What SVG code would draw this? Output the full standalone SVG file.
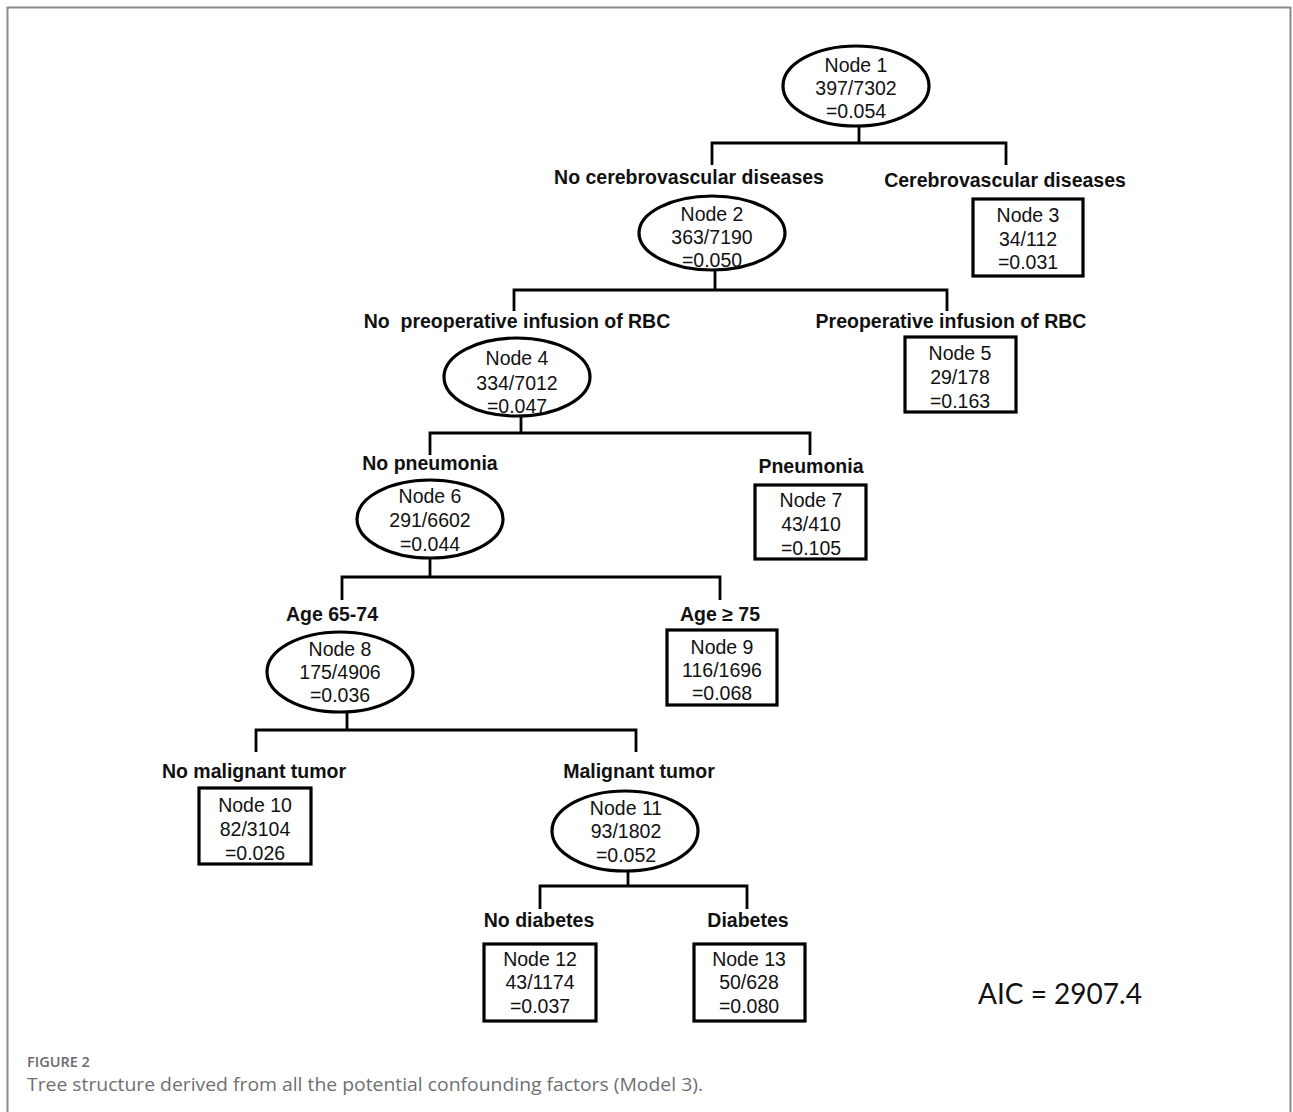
<svg xmlns="http://www.w3.org/2000/svg" width="1293" height="1112" viewBox="0 0 1293 1112">
<style>
.frame{fill:none;stroke:#8a8a8a;stroke-width:2}
.ell{fill:#fff;stroke:#000;stroke-width:3.2}
.box{fill:#fff;stroke:#000;stroke-width:3.2}
.conn{fill:none;stroke:#000;stroke-width:2.8;stroke-linejoin:miter;stroke-linecap:butt}
.nt{font-family:"Liberation Sans",Arial,sans-serif;font-size:19.5px;fill:#111;text-anchor:middle}
.lb{font-family:"Liberation Sans",Arial,sans-serif;font-size:19.5px;font-weight:bold;fill:#111;text-anchor:middle}
.aic{font-family:Lato,"Open Sans",sans-serif;font-size:28px;fill:#111}
.fig{font-family:"Open Sans","Liberation Sans",sans-serif;font-size:14.5px;font-weight:600;fill:#6a6a6a}
.cap{font-family:"Open Sans","Liberation Sans",sans-serif;font-size:18px;fill:#707070}
</style>
<rect width="1293" height="1112" fill="#fff"/>
<path class="frame" d="M7.5,1114 V7.5 H1290.5 V1114"/>

<g id="connectors">
<path class="conn" d="M859,126 V143 M712,165 V143 H1006 V165"/>
<path class="conn" d="M715,270 V290 M514,311 V290 H947 V311"/>
<path class="conn" d="M521,417 V433 M430,455 V433 H810 V455"/>
<path class="conn" d="M430,558 V577 M342,600 V577 H720 V600"/>
<path class="conn" d="M347,712 V730 M256,752 V730 H636 V752"/>
<path class="conn" d="M628,871 V886 M540,909 V886 H747 V909"/>
</g>

<g id="labels">
<text class="lb" x="689" y="184">No cerebrovascular diseases</text>
<text class="lb" x="1005" y="187">Cerebrovascular diseases</text>
<text class="lb" x="517" y="328" xml:space="preserve">No  preoperative infusion of RBC</text>
<text class="lb" x="951" y="328">Preoperative infusion of RBC</text>
<text class="lb" x="430" y="470">No pneumonia</text>
<text class="lb" x="811" y="473">Pneumonia</text>
<text class="lb" x="332" y="621">Age 65-74</text>
<text class="lb" x="720" y="621">Age ≥ 75</text>
<text class="lb" x="254" y="778">No malignant tumor</text>
<text class="lb" x="639" y="778">Malignant tumor</text>
<text class="lb" x="539" y="927">No diabetes</text>
<text class="lb" x="748" y="927">Diabetes</text>
</g>

<g id="node1">
<ellipse class="ell" cx="856" cy="86" rx="73" ry="40"/>
<text class="nt" x="856" y="72">Node 1</text>
<text class="nt" x="856" y="95">397/7302</text>
<text class="nt" x="856" y="118">=0.054</text>
</g>
<g id="node2">
<ellipse class="ell" cx="712" cy="233" rx="73" ry="37"/>
<text class="nt" x="712" y="221">Node 2</text>
<text class="nt" x="712" y="244">363/7190</text>
<text class="nt" x="712" y="267">=0.050</text>
</g>
<g id="node3">
<rect class="box" x="973" y="199" width="110" height="77"/>
<text class="nt" x="1028" y="222">Node 3</text>
<text class="nt" x="1028" y="246">34/112</text>
<text class="nt" x="1028" y="269">=0.031</text>
</g>
<g id="node4">
<ellipse class="ell" cx="517" cy="377" rx="73" ry="39"/>
<text class="nt" x="517" y="365">Node 4</text>
<text class="nt" x="517" y="390">334/7012</text>
<text class="nt" x="517" y="413">=0.047</text>
</g>
<g id="node5">
<rect class="box" x="905" y="337" width="111" height="75"/>
<text class="nt" x="960" y="360">Node 5</text>
<text class="nt" x="960" y="384">29/178</text>
<text class="nt" x="960" y="408">=0.163</text>
</g>
<g id="node6">
<ellipse class="ell" cx="430" cy="519" rx="73" ry="39"/>
<text class="nt" x="430" y="503">Node 6</text>
<text class="nt" x="430" y="527">291/6602</text>
<text class="nt" x="430" y="551">=0.044</text>
</g>
<g id="node7">
<rect class="box" x="755" y="485" width="111" height="74"/>
<text class="nt" x="811" y="507">Node 7</text>
<text class="nt" x="811" y="531">43/410</text>
<text class="nt" x="811" y="555">=0.105</text>
</g>
<g id="node8">
<ellipse class="ell" cx="340" cy="672" rx="73" ry="40"/>
<text class="nt" x="340" y="656">Node 8</text>
<text class="nt" x="340" y="679">175/4906</text>
<text class="nt" x="340" y="702">=0.036</text>
</g>
<g id="node9">
<rect class="box" x="667" y="630" width="110" height="75"/>
<text class="nt" x="722" y="654">Node 9</text>
<text class="nt" x="722" y="677">116/1696</text>
<text class="nt" x="722" y="700">=0.068</text>
</g>
<g id="node10">
<rect class="box" x="199" y="788" width="112" height="76"/>
<text class="nt" x="255" y="812">Node 10</text>
<text class="nt" x="255" y="836">82/3104</text>
<text class="nt" x="255" y="860">=0.026</text>
</g>
<g id="node11">
<ellipse class="ell" cx="625" cy="831" rx="73" ry="40"/>
<text class="nt" x="626" y="815">Node 11</text>
<text class="nt" x="626" y="838">93/1802</text>
<text class="nt" x="626" y="862">=0.052</text>
</g>
<g id="node12">
<rect class="box" x="484" y="944" width="112" height="77"/>
<text class="nt" x="540" y="966">Node 12</text>
<text class="nt" x="540" y="989">43/1174</text>
<text class="nt" x="540" y="1013">=0.037</text>
</g>
<g id="node13">
<rect class="box" x="694" y="944" width="111" height="77"/>
<text class="nt" x="749" y="966">Node 13</text>
<text class="nt" x="749" y="989">50/628</text>
<text class="nt" x="749" y="1013">=0.080</text>
</g>

<text class="aic" x="978" y="1004">AIC = 2907.4</text>
<text class="fig" x="27" y="1067">FIGURE 2</text>
<text class="cap" x="27" y="1091" textLength="676" lengthAdjust="spacingAndGlyphs">Tree structure derived from all the potential confounding factors (Model 3).</text>
</svg>
